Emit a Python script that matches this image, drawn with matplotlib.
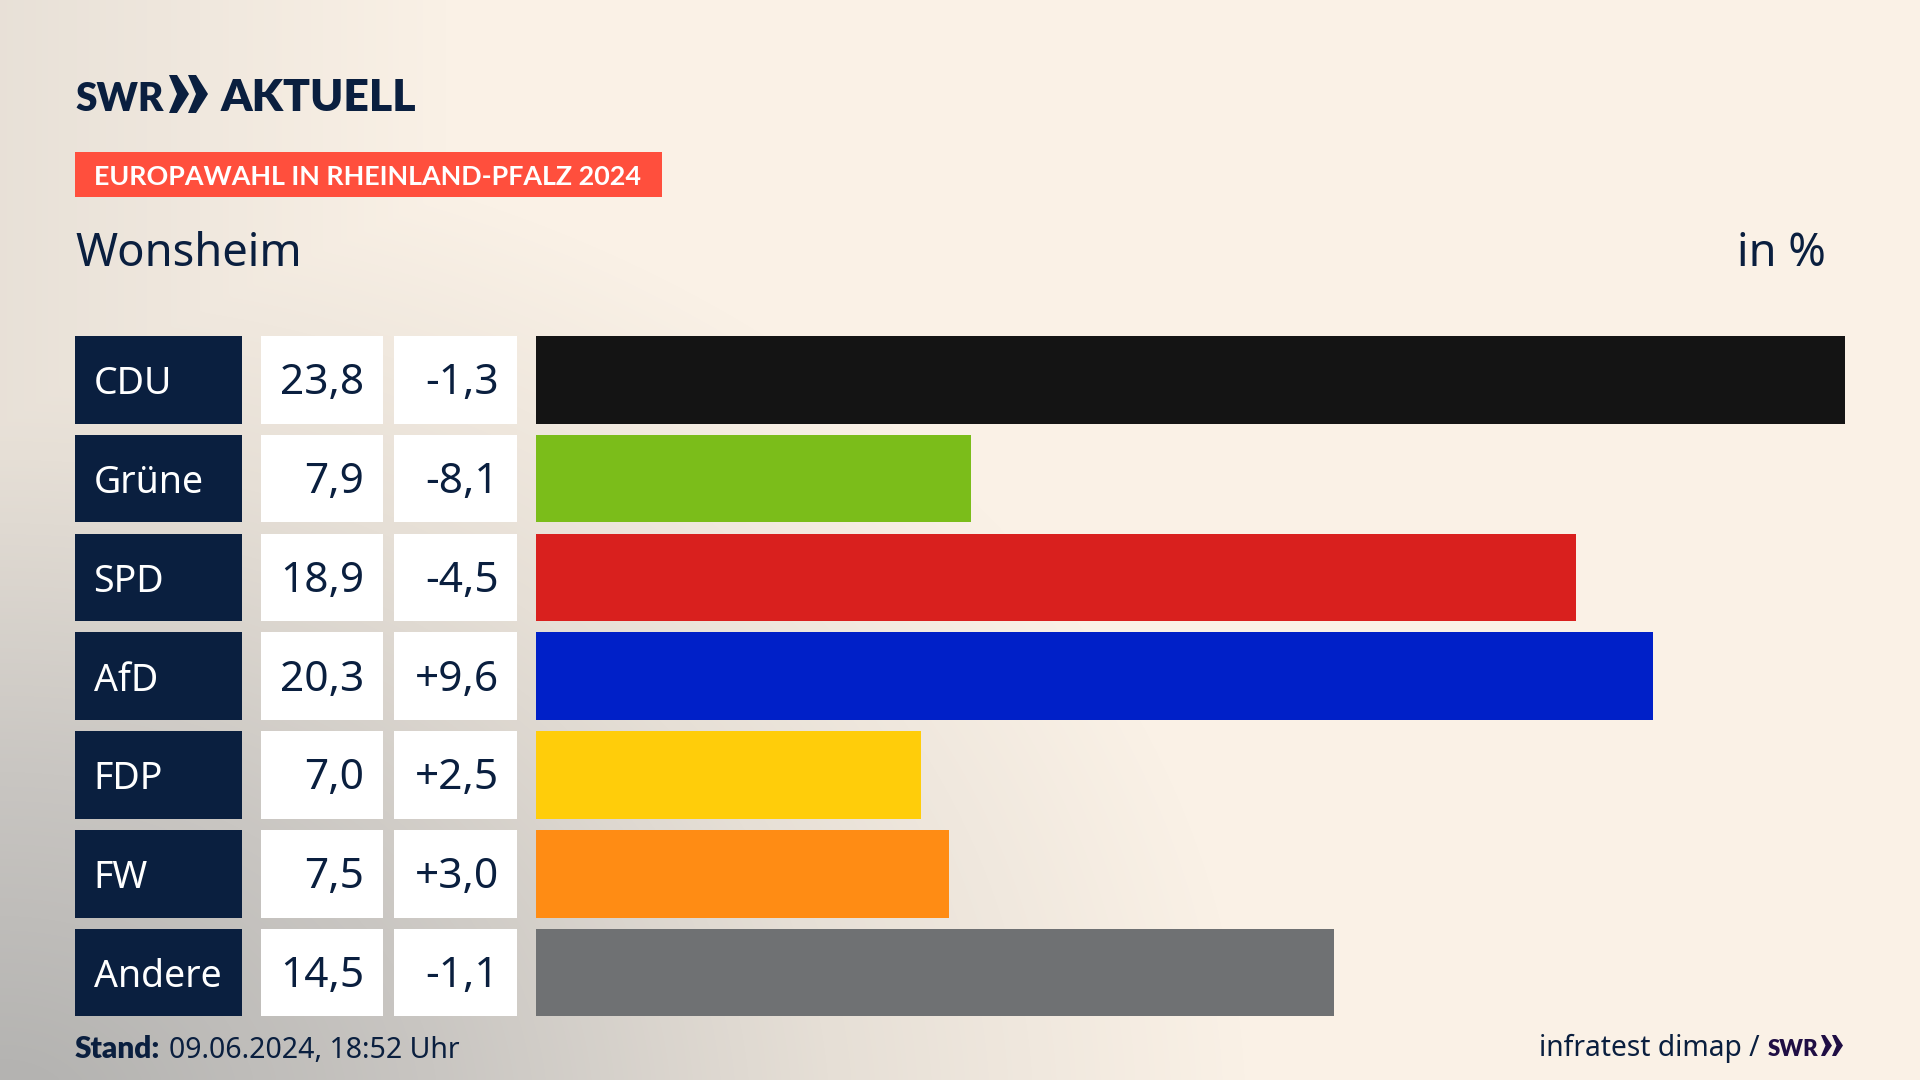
import numpy as np
import matplotlib
matplotlib.use("Agg")
import matplotlib.pyplot as plt
from matplotlib.patches import Rectangle, Polygon
from matplotlib.colors import LinearSegmentedColormap

parties = ["CDU", "Grüne", "SPD", "AfD", "FDP", "FW", "Andere"]
shares = [23.8, 7.9, 18.9, 20.3, 7.0, 7.5, 14.5]
changes = ["-1,3", "-8,1", "-4,5", "+9,6", "+2,5", "+3,0", "-1,1"]
colors = ["#141414", "#7BBD1A", "#D9201E", "#0020C8", "#FFCD0A", "#FF8C14", "#6F7173"]
NAVY = "#0A1F3F"
FONT = "Noto Sans"
BOLD = "Lato"

fig = plt.figure(figsize=(19.2, 10.8), dpi=100)
bg = fig.add_axes([0, 0, 1, 1])
bg.set_xlim(0, 1920); bg.set_ylim(1080, 0); bg.axis("off")

# background
H, W = 270, 480
yy, xx = np.mgrid[0:H, 0:W]
x = xx / W * 1920; y = yy / H * 1080
d1 = np.sqrt((x / 1250) ** 2 + ((y - 1120) / 1000) ** 2)
d2 = np.clip(1 - x / 450, 0, 1) * 0.30
t = np.clip(1 - d1, 0, 1) ** 1.05 * 1.05
t = np.clip(np.maximum(t, d2), 0, 1)
cmap = LinearSegmentedColormap.from_list("bg", ["#FAF1E6", "#E6DFD6", "#C9C6C2", "#B4B3B1"])
bg.imshow(t, extent=(0, 1920, 1080, 0), cmap=cmap, vmin=0, vmax=1, aspect="auto", interpolation="bilinear")
bg.set_xlim(0, 1920); bg.set_ylim(1080, 0)

# logo
bg.text(75, 111, "SWR", family=BOLD, weight="heavy", fontsize=28, color=NAVY, va="baseline")
for x0 in (169, 188):
    bg.add_patch(Polygon([(x0, 75), (x0 + 8, 75), (x0 + 20, 94), (x0 + 8, 113), (x0, 113), (x0 + 8, 94)], color=NAVY, lw=0))
bg.text(221, 111, "AKTUELL", family=BOLD, weight="heavy", fontsize=32, color=NAVY, va="baseline")

# tag
bg.add_patch(Rectangle((75, 152), 587, 45, color="#FF4F3D", lw=0))
bg.text(94, 175, "EUROPAWAHL IN RHEINLAND-PFALZ 2024", family=BOLD, weight="bold", fontsize=19.4, color="white", va="center_baseline")

bg.text(75, 266, "Wonsheim", family=FONT, fontsize=32.6, color=NAVY, va="baseline")
bg.text(1826, 266, "in %", family=FONT, fontsize=32.5, color=NAVY, va="baseline", ha="right")

# table cells
TOP, PITCH, RH = 336.0, 98.8, 87.5
for i, (p, s, c) in enumerate(zip(parties, shares, changes)):
    ty = TOP + PITCH * i
    bg.add_patch(Rectangle((74.7, ty), 167.7, RH, color=NAVY, lw=0))
    bg.add_patch(Rectangle((260.8, ty), 122.5, RH, color="white", lw=0))
    bg.add_patch(Rectangle((394.3, ty), 122.4, RH, color="white", lw=0))
    base = ty + RH / 2 + 14.5
    bg.text(93.5, base, p, family=FONT, fontsize=27, color="white", va="baseline")
    bg.text(364.5, base, f"{s:.1f}".replace(".", ","), family=FONT, fontsize=30.5, color=NAVY, va="baseline", ha="right")
    bg.text(499, base, c, family=FONT, fontsize=30.5, color=NAVY, va="baseline", ha="right")

# bars
ax = fig.add_axes([536.3 / 1920, 1 - (TOP + 6 * PITCH + RH) / 1080, (1845 - 536.3) / 1920, (6 * PITCH + RH) / 1080])
ax.patch.set_alpha(0)
ax.barh(range(len(parties)), shares, height=RH / PITCH, color=colors, linewidth=0)
ax.set_xlim(0, max(shares))
ax.set_ylim(len(parties) - 1 + RH / PITCH / 2, -RH / PITCH / 2)
ax.axis("off")

# footer
bg.text(75, 1057.5, "Stand:", family=BOLD, weight="heavy", fontsize=21.5, color=NAVY, va="baseline")
bg.text(169, 1057.5, "09.06.2024, 18:52 Uhr", family=FONT, fontsize=20.5, color=NAVY, va="baseline")
bg.text(1539, 1056, "infratest dimap /", family=FONT, fontsize=20.3, color=NAVY, va="baseline")
bg.text(1768, 1055.5, "SWR", family=BOLD, weight="heavy", fontsize=16, color="#1F0E44", va="baseline")
for x0 in (1821, 1832):
    bg.add_patch(Polygon([(x0, 1035), (x0 + 4, 1035), (x0 + 11, 1045.5), (x0 + 4, 1056), (x0, 1056), (x0 + 4.5, 1045.5)], color="#1F0E44", lw=0))

fig.savefig("out.png", dpi=100)
